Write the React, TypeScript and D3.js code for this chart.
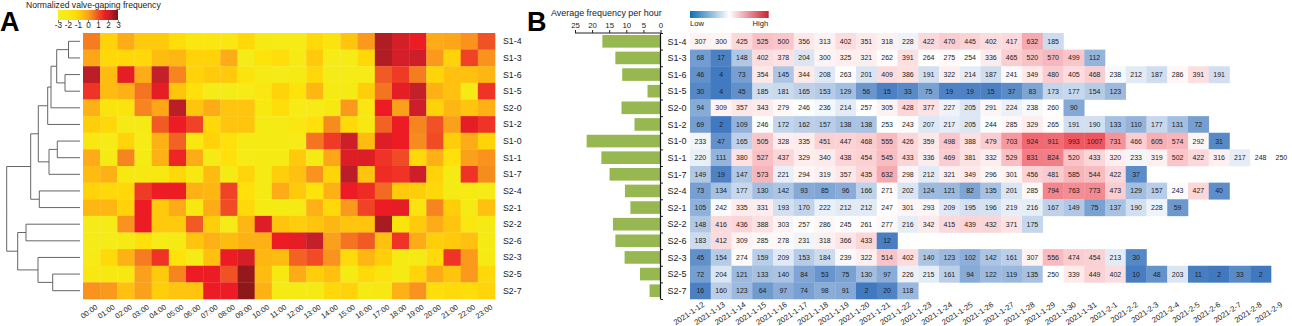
import { useEffect, useRef } from 'react'
import * as d3 from 'd3'

const width = 1292
const height = 326
const font = '"Liberation Sans", Arial, sans-serif'

const stations = ['S1-4', 'S1-3', 'S1-6', 'S1-5', 'S2-0', 'S1-2', 'S1-0', 'S1-1', 'S1-7', 'S2-4', 'S2-1', 'S2-2', 'S2-6', 'S2-3', 'S2-5', 'S2-7']
const hours = d3.range(24).map((h) => `${String(h).padStart(2, '0')}:00`)
const dates = [
  '2021-1-12', '2021-1-13', '2021-1-14', '2021-1-15', '2021-1-16', '2021-1-17', '2021-1-18', '2021-1-19', '2021-1-20', '2021-1-21',
  '2021-1-22', '2021-1-23', '2021-1-24', '2021-1-25', '2021-1-26', '2021-1-27', '2021-1-28', '2021-1-29', '2021-1-30', '2021-1-31',
  '2021-2-1', '2021-2-2', '2021-2-3', '2021-2-4', '2021-2-5', '2021-2-6', '2021-2-7', '2021-2-8', '2021-2-9',
]

// normalized frequency, one row per station, one column per hour
const hourly = [
  [0.5, -1.0, -0.2, -0.8, -0.8, -1.4, -1.8, -1.8, -1.8, -1.2, -2.0, -2.2, -2.2, -1.3, -1.7, -0.7, 0.1, 2.4, 2.0, 1.7, -0.2, -0.1, 0.2, 1.0],
  [-0.1, -1.2, -1.2, -1.2, -0.5, -0.4, -1.0, -1.0, -0.2, -2.3, -1.6, -1.4, -2.0, -0.8, -2.2, -2.2, -1.2, 2.4, 2.0, 2.1, 0.1, -1.0, 1.2, 0.2],
  [2.3, -0.5, 1.8, -0.2, 2.2, 0.4, -1.0, -0.8, -0.8, -1.7, -2.0, -2.3, -2.0, -1.2, -2.3, -2.3, -2.2, 0.9, 1.3, 0.5, -1.1, -0.6, -0.6, -0.4],
  [1.4, -0.5, -0.3, 0.6, 1.8, -0.7, -1.5, -2.3, -2.3, -2.2, -1.8, -1.0, -1.6, -0.4, -2.0, -2.0, -0.9, 0.6, 1.8, 2.2, -0.3, -0.6, -2.0, 1.4],
  [-0.3, -1.7, -1.7, 0.4, -0.1, 2.3, -0.7, -0.2, -0.7, -0.7, -1.9, -1.4, -2.2, -2.2, -1.9, 0.1, -1.8, 1.7, 0.0, 2.1, -1.0, -0.4, -0.7, -0.3],
  [-0.9, -1.2, -2.0, -2.0, 0.9, 1.7, 1.2, -1.2, -0.7, -0.7, -2.1, -2.0, -1.8, -1.5, 0.3, -1.3, -1.9, 0.8, 1.7, 0.4, 1.0, 0.0, 1.8, 1.4],
  [-1.8, -2.2, -1.1, -2.2, -0.3, 0.8, -1.8, -1.0, -1.5, -2.1, -2.0, -2.1, -2.2, 0.6, 1.3, 2.1, -0.5, 1.9, 1.7, 0.3, 1.1, -0.9, -0.2, -1.1],
  [-0.2, -2.1, 0.4, -2.1, -0.3, 1.6, -0.2, -2.0, -1.5, -2.2, -2.0, -2.0, -0.8, -2.1, -0.1, 1.9, 1.9, 1.4, 1.1, -1.2, -0.3, -1.5, 0.0, 0.2],
  [-0.5, -0.3, -1.9, -1.9, -1.9, -1.2, -1.9, -0.5, -2.1, -1.1, -2.1, -0.9, -0.6, 0.2, -1.1, 2.3, -0.7, 1.5, 1.4, 2.1, -1.0, -2.0, 1.4, 0.3],
  [-1.0, -1.2, -1.2, 1.3, 1.7, 1.7, -0.3, -0.4, 1.2, -1.5, -2.1, -0.2, -0.8, -1.6, -0.3, 1.7, 1.5, 0.7, -0.8, -0.9, -1.2, -2.0, -2.1, -2.2],
  [-0.4, -0.4, -1.0, 1.7, -0.8, -0.2, -1.9, -0.2, 1.1, -1.2, -2.0, -2.1, -2.1, -0.3, -1.2, 0.1, 1.2, 1.7, 1.8, -1.7, 0.4, -0.9, -2.1, -0.6],
  [-2.3, -2.2, 0.2, 1.7, -0.8, -0.8, 0.9, -0.9, -2.2, -0.4, 1.9, -0.7, -0.9, -0.7, -0.4, -0.7, -0.7, 2.5, -1.7, -0.8, -0.2, -0.7, -1.8, -2.1],
  [-2.3, -2.3, -2.0, -1.5, -2.2, -2.1, -0.7, -0.3, -0.5, -0.3, -0.3, 1.7, 1.8, 2.2, 0.0, 0.6, 0.9, -0.6, 1.4, -0.2, -0.9, -0.8, -0.6, -2.1],
  [-2.2, -1.3, -0.3, 0.5, 1.4, -1.6, -2.2, -0.6, 1.7, 2.0, -0.4, -0.5, 0.8, 1.1, 0.2, -1.3, -0.4, -0.9, -2.1, -2.1, -1.3, 1.4, 0.1, -2.1],
  [-1.8, -1.9, -1.9, 0.0, -0.8, 0.4, 1.7, 1.7, 1.0, 2.7, -0.5, -1.9, -0.2, -0.9, -0.6, -2.0, -1.3, -1.7, -2.1, -1.1, -0.2, -0.7, 0.1, -1.2],
  [0.2, 0.1, -0.6, 0.0, -0.9, -0.7, -0.7, 1.7, 1.7, 2.8, -0.3, -2.1, -2.1, -2.1, -1.2, -1.0, -2.0, -1.9, -0.3, 0.2, -1.4, -1.3, -1.4, -1.1],
]

// gaping counts per day, rows stop when the station stopped recording
const daily = [
  [307, 300, 425, 525, 500, 356, 313, 402, 351, 318, 228, 422, 470, 445, 402, 417, 632, 185],
  [68, 17, 148, 402, 378, 204, 300, 325, 321, 262, 391, 264, 275, 254, 336, 465, 520, 570, 499, 112],
  [46, 4, 73, 354, 145, 344, 208, 263, 201, 409, 386, 191, 322, 214, 187, 241, 349, 480, 405, 468, 238, 212, 187, 286, 391, 191],
  [30, 4, 45, 185, 181, 165, 153, 129, 56, 15, 33, 75, 19, 19, 15, 37, 83, 173, 177, 154, 123],
  [94, 309, 357, 343, 279, 246, 236, 214, 257, 305, 428, 377, 227, 205, 291, 224, 238, 260, 90],
  [69, 2, 109, 246, 172, 162, 157, 138, 138, 253, 243, 207, 217, 205, 244, 285, 329, 265, 191, 190, 133, 110, 177, 131, 72],
  [233, 47, 165, 505, 328, 335, 451, 447, 468, 555, 426, 359, 498, 388, 479, 703, 924, 911, 993, 1007, 731, 466, 605, 574, 292, 31],
  [220, 111, 380, 527, 437, 329, 340, 438, 454, 545, 433, 336, 469, 381, 332, 529, 831, 824, 520, 433, 320, 233, 319, 502, 422, 316, 217, 248, 250],
  [149, 19, 147, 573, 221, 294, 319, 357, 435, 632, 298, 212, 321, 349, 296, 301, 456, 481, 585, 544, 422, 37],
  [73, 134, 177, 130, 142, 93, 85, 96, 166, 271, 202, 124, 121, 82, 135, 201, 285, 794, 763, 773, 473, 129, 157, 243, 427, 40],
  [105, 242, 335, 331, 193, 170, 222, 212, 212, 247, 301, 293, 209, 195, 196, 219, 216, 167, 149, 75, 137, 190, 228, 59],
  [148, 416, 436, 388, 303, 257, 286, 245, 261, 277, 216, 342, 415, 439, 432, 371, 175],
  [183, 412, 309, 285, 278, 231, 318, 366, 433, 12],
  [45, 154, 274, 159, 209, 153, 184, 239, 322, 514, 402, 140, 123, 102, 142, 161, 307, 556, 474, 454, 213, 30],
  [72, 204, 121, 133, 140, 84, 53, 75, 130, 97, 226, 215, 161, 94, 122, 119, 135, 250, 339, 449, 402, 10, 48, 203, 11, 2, 33, 2],
  [16, 160, 123, 64, 97, 74, 98, 91, 2, 20, 118],
]

const avgPerHour = [17, 13.2, 11.2, 3.8, 11.4, 7.6, 21.6, 17.3, 14.9, 10.4, 8.8, 13.9, 13.2, 10.5, 6, 3.2]
const avgTicks = [25, 20, 15, 10, 5, 0]
const legendTicks = [-3, -2, -1, 0, 1, 2, 3]

// clustering tree, h is the merge distance
type TreeNode = { h: number; name?: string; children?: TreeNode[] }
const leaf = (name: string): TreeNode => ({ h: 0, name })
const merge = (h: number, ...children: TreeNode[]): TreeNode => ({ h, children })
const tree = merge(
  73.3,
  merge(
    49.3,
    merge(
      41.7,
      merge(
        32.3,
        merge(29, merge(23.3, merge(11.5, leaf('S1-4'), leaf('S1-3')), merge(15, leaf('S1-6'), leaf('S1-5'))), leaf('S2-0')),
        leaf('S1-2')
      ),
      merge(31, merge(22.7, leaf('S1-0'), leaf('S1-1')), leaf('S1-7'))
    ),
    merge(40.7, leaf('S2-4'), leaf('S2-1'))
  ),
  merge(62.3, merge(54, leaf('S2-2'), leaf('S2-6')), merge(42, leaf('S2-3'), merge(27.3, leaf('S2-5'), leaf('S2-7'))))
)

const heatStops = [-3, -2, -1.5, -1, -0.5, 0, 0.4, 0.9, 1.3, 1.7, 2.2, 2.7, 3]
const heatColors = ['#f4ee22', '#f6ea14', '#ffe00a', '#ffd20a', '#ffbc10', '#fba01a', '#f6851f', '#f15a24', '#ef3b26', '#ed1c24', '#c4202a', '#95181c', '#7f1416']

const App = () => {
  const svgRef = useRef<SVGSVGElement | null>(null)

  useEffect(() => {
    const svg = d3.select(svgRef.current)
    svg.selectAll('*').remove()
    svg.style('font-family', font)

    const top = 33
    const bottom = 299
    const rowY = d3.scaleBand<string>().domain(stations).range([top, bottom])
    const hourX = d3.scaleBand<string>().domain(hours).range([83, 495])
    const dateX = d3.scaleBand<string>().domain(dates).range([690, 1291.75])
    // date labels run a touch tighter than the cells
    const dateLabelX = d3.scalePoint<string>().domain(dates).range([705, 1283])
    const heatColor = d3.scaleLinear<string>().domain(heatStops).range(heatColors)
    const dailyColor = d3.scaleLinear<string>().domain([0, 250, 1007]).range(['#3f78bf', '#ffffff', '#ee5560'])

    // panel letters
    svg.append('text').attr('x', 0).attr('y', 31).attr('font-size', 27).attr('font-weight', 700).attr('fill', '#000').text('A')
    svg.append('text').attr('x', 527).attr('y', 31).attr('font-size', 27).attr('font-weight', 700).attr('fill', '#000').text('B')

    // panel A legend
    svg.append('text').attr('x', 26).attr('y', 7.9).attr('font-size', 8.6).attr('fill', '#222').text('Normalized valve-gaping frequency')
    const defs = svg.append('defs')
    const gradA = defs.append('linearGradient').attr('id', 'gradA')
    heatStops.forEach((s) => {
      gradA.append('stop').attr('offset', (s + 3) / 6).attr('stop-color', heatColor(s))
    })
    const legendX = d3.scaleLinear().domain([-3, 3]).range([58, 118])
    svg.append('rect').attr('x', 58).attr('y', 10).attr('width', 60).attr('height', 10).attr('fill', 'url(#gradA)')
    svg
      .append('g')
      .attr('transform', 'translate(0,20)')
      .call(d3.axisBottom(legendX).tickValues(legendTicks).tickSize(2).tickPadding(0).tickFormat((d) => String(d)))
      .call((g) => g.select('.domain').remove())
      .call((g) => g.selectAll('.tick line').attr('stroke', '#333').attr('stroke-width', 0.6))
      .call((g) => g.selectAll('.tick text').attr('font-size', 8.2).attr('font-family', font).attr('fill', '#222'))

    // dendrogram
    const root = d3.hierarchy(tree)
    const treeX = d3.scaleLinear().domain([0, 73.3]).range([80, 6.7])
    const nodeY = new Map<any, number>()
    root.eachAfter((n) => {
      if (n.children) nodeY.set(n, d3.mean(n.children, (c) => nodeY.get(c)) as number)
      else nodeY.set(n, (rowY(n.data.name as string) as number) + rowY.bandwidth() / 2)
    })
    svg
      .append('g')
      .attr('fill', 'none')
      .attr('stroke', '#555')
      .attr('stroke-width', 0.9)
      .selectAll('path')
      .data(root.links())
      .join('path')
      .attr('d', (l) => `M${treeX(l.source.data.h)},${nodeY.get(l.source)}V${nodeY.get(l.target)}H${treeX(l.target.data.h)}`)

    // panel A cells
    svg
      .append('g')
      .selectAll('g')
      .data(hourly)
      .join('g')
      .attr('transform', (_, i) => `translate(0,${rowY(stations[i])})`)
      .selectAll('rect')
      .data((d) => d)
      .join('rect')
      .attr('x', (_, j) => hourX(hours[j]) as number)
      .attr('width', hourX.bandwidth() + 0.3)
      .attr('height', rowY.bandwidth() + 0.3)
      .attr('fill', (d) => heatColor(d))

    // panel A labels
    svg
      .append('g')
      .selectAll('text')
      .data(stations)
      .join('text')
      .attr('x', 503)
      .attr('y', (d) => (rowY(d) as number) + rowY.bandwidth() / 2 + 3)
      .attr('font-size', 8.8)
      .attr('fill', '#222')
      .text((d) => d)
    svg
      .append('g')
      .selectAll('text')
      .data(hours)
      .join('text')
      .attr('text-anchor', 'end')
      .attr('transform', (d) => `translate(${(hourX(d) as number) + hourX.bandwidth() / 2 + 6.7},308.3) rotate(-35)`)
      .attr('font-size', 7.5)
      .attr('fill', '#222')
      .text((d) => d)

    // panel B bars
    const barX = d3.scaleLinear().domain([25, 0]).range([575, 660.5])
    svg
      .append('text')
      .attr('x', 551)
      .attr('y', 16)
      .attr('font-size', 8.95)
      .attr('fill', '#222')
      .text('Average frequency per hour')
    svg
      .append('g')
      .attr('fill', '#97b850')
      .selectAll('rect')
      .data(avgPerHour)
      .join('rect')
      .attr('x', (d) => barX(d))
      .attr('y', (_, i) => (rowY(stations[i]) as number) + 2)
      .attr('width', (d) => barX(0) - barX(d))
      .attr('height', rowY.bandwidth() - 4)
    svg
      .append('g')
      .attr('transform', `translate(0,${top})`)
      .call(d3.axisTop(barX).tickValues(avgTicks).tickSize(3).tickPadding(2).tickFormat(d3.format('d')))
      .call((g) => g.select('.domain').attr('stroke', '#222').attr('d', `M575,0H660.5`))
      .call((g) => g.selectAll('.tick line').attr('stroke', '#222'))
      .call((g) => g.selectAll('.tick text').attr('font-size', 7.8).attr('font-family', font).attr('fill', '#222'))
    const rowEdge = d3.scaleLinear().domain([0, stations.length]).range([top, bottom])
    svg
      .append('g')
      .attr('transform', 'translate(660.5,0)')
      .call(d3.axisRight(rowEdge).tickValues(d3.range(stations.length + 1)).tickSize(2.5).tickFormat(() => ''))
      .call((g) => g.select('.domain').attr('stroke', '#111').attr('stroke-width', 1.2).attr('d', `M0,${top}V${bottom}`))
      .call((g) => g.selectAll('.tick line').attr('stroke', '#222'))
    svg
      .append('g')
      .selectAll('text')
      .data(stations)
      .join('text')
      .attr('x', 667.5)
      .attr('y', (d) => (rowY(d) as number) + rowY.bandwidth() / 2 + 3.2)
      .attr('font-size', 9)
      .attr('fill', '#222')
      .text((d) => d)

    // panel B legend
    const gradB = defs.append('linearGradient').attr('id', 'gradB')
    gradB.append('stop').attr('offset', 0).attr('stop-color', '#0d6fb8')
    gradB.append('stop').attr('offset', 0.5).attr('stop-color', '#ffffff')
    gradB.append('stop').attr('offset', 1).attr('stop-color', '#cf2030')
    svg.append('rect').attr('x', 690).attr('y', 11).attr('width', 78.7).attr('height', 7).attr('fill', 'url(#gradB)')
    svg.append('text').attr('x', 690).attr('y', 26).attr('font-size', 7.6).attr('fill', '#222').text('Low')
    svg.append('text').attr('x', 752.5).attr('y', 26).attr('font-size', 7.6).attr('fill', '#222').text('High')

    // panel B cells with their counts
    const rows = svg
      .append('g')
      .selectAll('g')
      .data(daily)
      .join('g')
      .attr('transform', (_, i) => `translate(0,${rowY(stations[i])})`)
    rows
      .selectAll('rect')
      .data((d) => d)
      .join('rect')
      .attr('x', (_, j) => dateX(dates[j]) as number)
      .attr('width', dateX.bandwidth() + 0.3)
      .attr('height', rowY.bandwidth() + 0.3)
      .attr('fill', (d) => dailyColor(d))
    rows
      .selectAll('text')
      .data((d) => d)
      .join('text')
      .attr('x', (_, j) => (dateX(dates[j]) as number) + dateX.bandwidth() / 2)
      .attr('y', rowY.bandwidth() / 2 + 2.5)
      .attr('text-anchor', 'middle')
      .attr('font-size', 7)
      .attr('fill', '#222')
      .text((d) => d)

    svg
      .append('g')
      .selectAll('text')
      .data(dates)
      .join('text')
      .attr('text-anchor', 'end')
      .attr('transform', (d) => `translate(${dateLabelX(d)},306) rotate(-33.5)`)
      .attr('font-size', 7.7)
      .attr('fill', '#222')
      .text((d) => d)
  }, [])

  return <svg ref={svgRef} width={width} height={height} style={{ position: 'absolute', left: 0, top: 0 }} />
}

export default App
